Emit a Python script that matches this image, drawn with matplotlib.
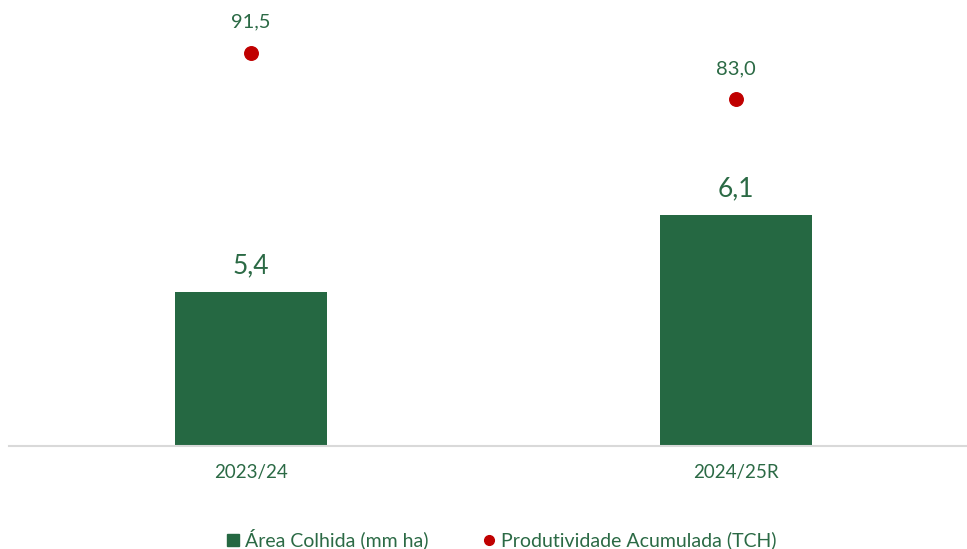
import matplotlib.pyplot as plt
from matplotlib.lines import Line2D

plt.rcParams['font.family'] = ['Lato', 'DejaVu Sans']

# dados
safras = ['2023/24', '2024/25R']
area_colhida = [5.4, 6.1]          # mm ha
produtividade = [91.5, 83.0]       # TCH

verde = '#256842'
texto = '#2b6a45'
vermelho = '#c00000'

fig = plt.figure(figsize=(9.67, 5.49), dpi=100)
ax = fig.add_axes([0.0088, 0.1876, 1.003, 0.8015])
ax2 = ax.twinx()

x = list(range(len(safras)))
bars = ax.bar(x, area_colhida, width=0.313, color=verde, zorder=2)
ax.set_ylim(4, 8)
ax.set_xlim(-0.5, 1.5)

for xi, v in zip(x, area_colhida):
    ax.annotate(f"{v:.1f}".replace('.', ','), (xi, v), xytext=(0, 10),
                textcoords='offset points', ha='center', va='bottom',
                fontsize=19, color=texto)

ax2.scatter(x, produtividade, s=95, color=vermelho, zorder=3)
ax2.set_ylim(20, 100)
for xi, v in zip(x, produtividade):
    ax2.annotate(f"{v:.1f}".replace('.', ','), (xi, v), xytext=(0, 16),
                 textcoords='offset points', ha='center', va='bottom',
                 fontsize=14.5, color=texto)

# eixos
for a in (ax, ax2):
    for s in ['top', 'right', 'left']:
        a.spines[s].set_visible(False)
    a.set_yticks([])
ax2.spines['bottom'].set_visible(False)
ax.spines['bottom'].set_color('#d9d9d9')
ax.spines['bottom'].set_linewidth(1.5)
ax.set_xticks(x)
ax.set_xticklabels(safras, fontsize=13.5, color=texto)
ax.tick_params(axis='x', length=0, pad=13)

handles = [
    Line2D([], [], marker='s', linestyle='none', color=verde, markersize=9),
    Line2D([], [], marker='o', linestyle='none', color=vermelho, markersize=7),
]
fig.legend(handles, ['Área Colhida (mm ha)', 'Produtividade Acumulada (TCH)'],
           loc='center', bbox_to_anchor=(0.517, 0.018), ncol=2, frameon=False,
           fontsize=14, labelcolor=texto, handletextpad=0.1, columnspacing=2.6,
           handlelength=1.0)

fig.savefig('out.png', dpi=100)
